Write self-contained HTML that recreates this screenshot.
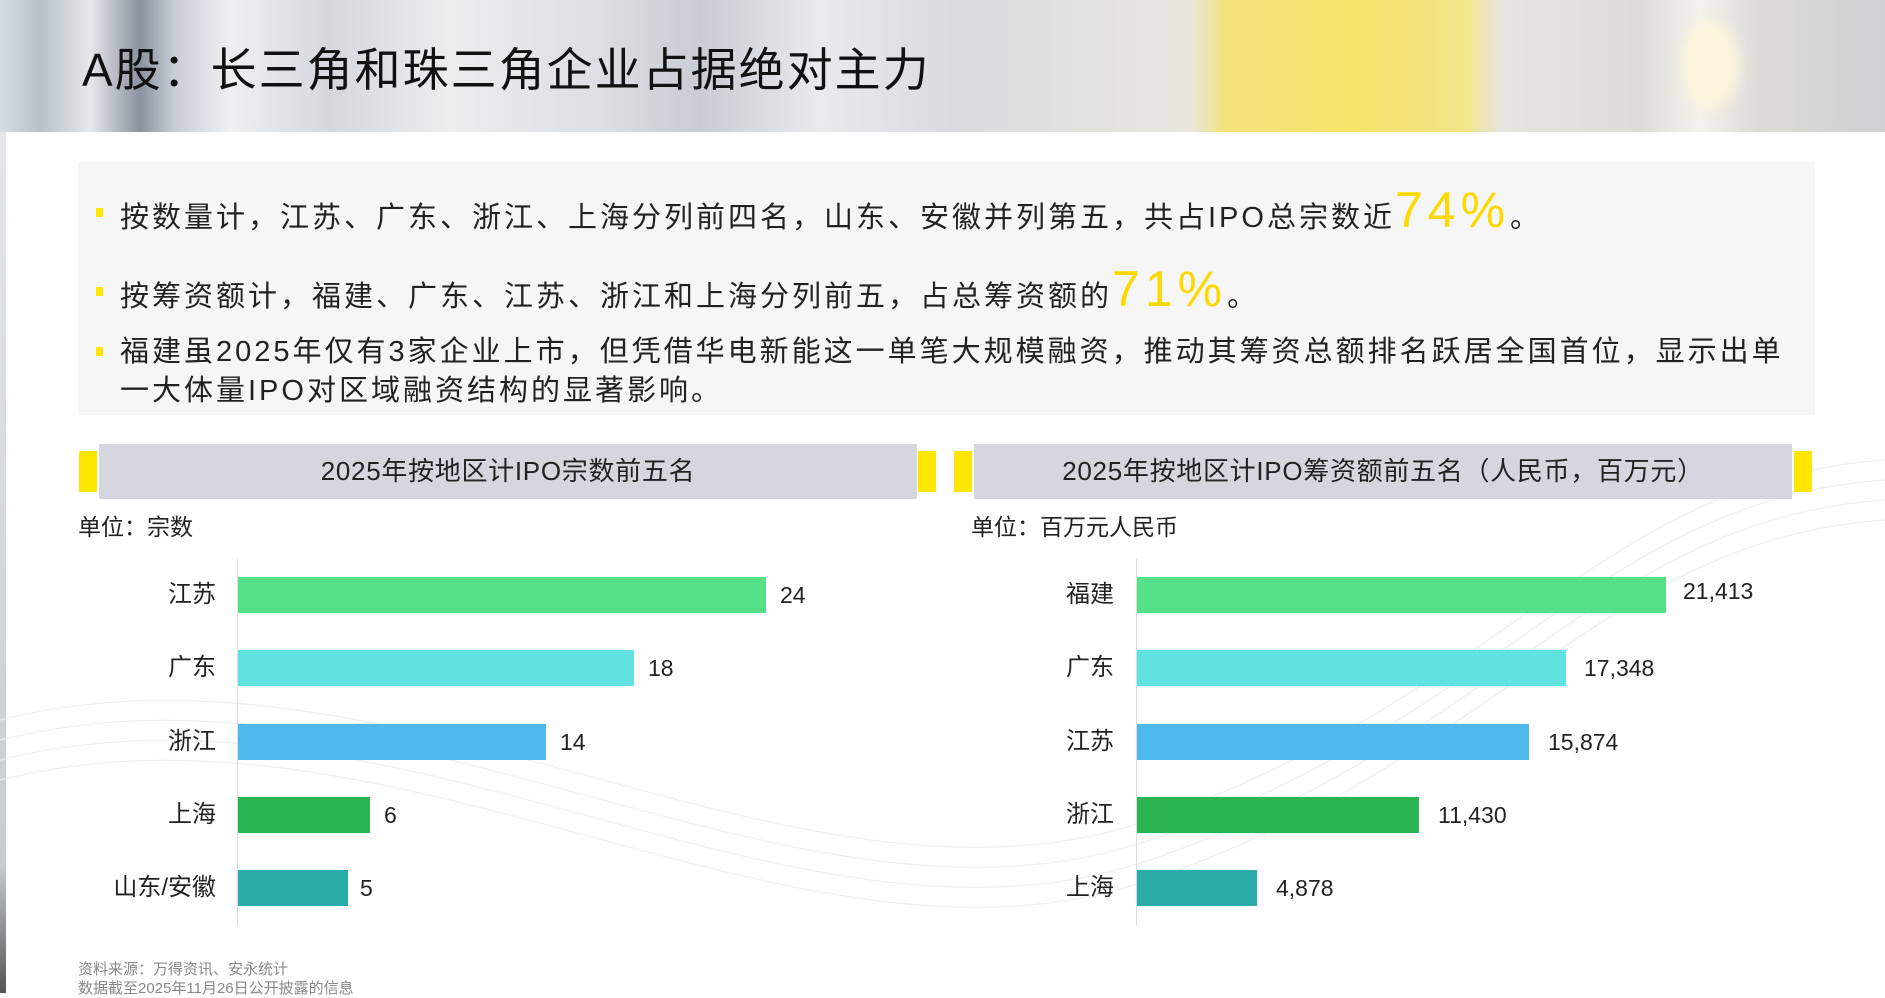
<!DOCTYPE html>
<html><head><meta charset="utf-8"><style>
*{margin:0;padding:0;box-sizing:border-box}
body{width:1885px;height:993px;position:relative;overflow:hidden;background:#fff;font-family:"Liberation Sans","Noto Sans CJK SC",sans-serif;color:#222}
.abs{position:absolute}
#hdr{left:0;top:0;width:1885px;height:132px;background:linear-gradient(90deg,#d8dde3 0px,#b9c0c9 40px,#e6e8ea 90px,#8a93a0 140px,#c9ced6 175px,#eef0f1 230px,#d4d8dd 330px,#eceded 450px,#dcdfe3 600px,#c8cdd3 700px,#e9eaec 820px,#d9dbde 950px,#e8e6df 1190px,#f2e27a 1226px,#f6e36a 1350px,#f3e58a 1467px,#e6e4de 1500px,#dddcd8 1640px,#f4f2ec 1700px,#dcdad6 1760px,#cfd1d3 1885px)}
#blob{left:1680px;top:20px;width:60px;height:90px;border-radius:50%;background:#fbf3dc;filter:blur(6px)}
#title{left:82px;top:34px;font-size:46px;color:#111;white-space:nowrap;letter-spacing:2px}
#strip{left:0;top:132px;width:6px;height:861px;background:linear-gradient(#e4e6ea,#c8ccd2 85%,#555 100%)}
#box{left:78px;top:162px;width:1737px;height:253px;background:#f6f6f6}
.b{position:absolute;left:120px;font-size:29px;color:#222;white-space:nowrap;line-height:38px;letter-spacing:3px}
.sq{position:absolute;left:96px;width:7px;height:9px;background:#ffe600}
.big{color:#ffd800;font-size:50px;letter-spacing:5px}
.yl{position:absolute;background:#ffe600;height:41px}
.hd{position:absolute;top:444px;height:55px;background:#d6d6de;font-size:26px;text-align:center;line-height:55px;color:#222;letter-spacing:0.7px}
.unit{position:absolute;top:508px;font-size:23px;color:#222}
.lab{position:absolute;font-size:24px;text-align:right;width:150px;line-height:30px}
.val{position:absolute;font-size:23px;line-height:30px;color:#222}
.bar{position:absolute;height:36px}
.ax{position:absolute;width:1px;background:#ddd;top:559px;height:367px}
.ft{position:absolute;left:78px;font-size:15px;color:#888;white-space:nowrap}
</style></head><body>
<div id="hdr" class="abs"></div>
<div id="blob" class="abs"></div>
<div id="title" class="abs">A股：长三角和珠三角企业占据绝对主力</div>
<div id="strip" class="abs"></div>
<svg class="abs" style="left:0;top:420px" width="1885" height="573"><g fill="none" stroke="#eceef0" stroke-width="1.2">
<path d="M0 300 C400 200 800 520 1150 400 S1600 60 1885 40"/><path d="M0 320 C400 220 800 540 1150 420 S1600 80 1885 60"/><path d="M0 340 C400 240 800 560 1150 440 S1600 100 1885 80"/><path d="M0 360 C400 260 800 580 1150 460 S1600 120 1885 100"/></g></svg>
<div id="box" class="abs"></div>
<div class="sq" style="top:208px"></div>
<div class="b" style="top:191px">按数量计，江苏、广东、浙江、上海分列前四名，山东、安徽并列第五，共占IPO总宗数近<span class="big">74%</span>。</div>
<div class="sq" style="top:287px"></div>
<div class="b" style="top:270px">按筹资额计，福建、广东、江苏、浙江和上海分列前五，占总筹资额的<span class="big">71%</span>。</div>
<div class="sq" style="top:347px"></div>
<div class="b" style="top:333px">福建虽2025年仅有3家企业上市，但凭借华电新能这一单笔大规模融资，推动其筹资总额排名跃居全国首位，显示出单</div>
<div class="b" style="top:372px">一大体量IPO对区域融资结构的显著影响。</div>

<div class="yl" style="left:79px;top:451px;width:18px"></div>
<div class="yl" style="left:918px;top:451px;width:18px"></div>
<div class="hd" style="left:99px;width:818px">2025年按地区计IPO宗数前五名</div>
<div class="yl" style="left:954px;top:451px;width:18px"></div>
<div class="yl" style="left:1794px;top:451px;width:18px"></div>
<div class="hd" style="left:974px;width:818px">2025年按地区计IPO筹资额前五名（人民币，百万元）</div>
<div class="unit" style="left:78px">单位：宗数</div>
<div class="unit" style="left:971px">单位：百万元人民币</div>

<div class="ax" style="left:237px"></div>
<div class="lab" style="left:66px;top:580px">江苏</div><div class="bar" style="left:238px;top:577px;width:528px;background:#55df87"></div><div class="val" style="left:780px;top:580px">24</div>
<div class="lab" style="left:66px;top:653px">广东</div><div class="bar" style="left:238px;top:650px;width:396px;background:#60e3e0"></div><div class="val" style="left:648px;top:653px">18</div>
<div class="lab" style="left:66px;top:727px">浙江</div><div class="bar" style="left:238px;top:724px;width:308px;background:#4db9ec"></div><div class="val" style="left:560px;top:727px">14</div>
<div class="lab" style="left:66px;top:800px">上海</div><div class="bar" style="left:238px;top:797px;width:132px;background:#2ab552"></div><div class="val" style="left:384px;top:800px">6</div>
<div class="lab" style="left:66px;top:873px">山东/安徽</div><div class="bar" style="left:238px;top:870px;width:110px;background:#2aaca8"></div><div class="val" style="left:360px;top:873px">5</div>

<div class="ax" style="left:1136px"></div>
<div class="lab" style="left:964px;top:580px">福建</div><div class="bar" style="left:1137px;top:577px;width:529px;background:#55df87"></div><div class="val" style="left:1683px;top:576px">21,413</div>
<div class="lab" style="left:964px;top:653px">广东</div><div class="bar" style="left:1137px;top:650px;width:429px;background:#60e3e0"></div><div class="val" style="left:1584px;top:653px">17,348</div>
<div class="lab" style="left:964px;top:727px">江苏</div><div class="bar" style="left:1137px;top:724px;width:392px;background:#4db9ec"></div><div class="val" style="left:1548px;top:727px">15,874</div>
<div class="lab" style="left:964px;top:800px">浙江</div><div class="bar" style="left:1137px;top:797px;width:282px;background:#2ab552"></div><div class="val" style="left:1438px;top:800px">11,430</div>
<div class="lab" style="left:964px;top:873px">上海</div><div class="bar" style="left:1137px;top:870px;width:120px;background:#2aaca8"></div><div class="val" style="left:1276px;top:873px">4,878</div>

<div class="ft" style="top:958px">资料来源：万得资讯、安永统计</div>
<div class="ft" style="top:977px">数据截至2025年11月26日公开披露的信息</div>
</body></html>
